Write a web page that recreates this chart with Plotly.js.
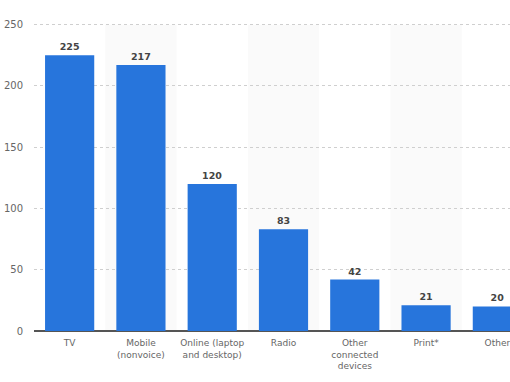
<!DOCTYPE html>
<html>
<head>
<meta charset="utf-8">
<script src="https://cdn.plot.ly/plotly-3.0.1.min.js"></script>
<style>html,body{margin:0;padding:0;background:#fff;overflow:hidden;width:510px;height:382px;}#chart{width:533px;height:382px;}</style>
</head>
<body>
<div id="chart"></div>
<script>
const categories = ["TV", "Mobile<br>(nonvoice)", "Online (laptop<br>and desktop)", "Radio", "Other<br>connected<br>devices", "Print*", "Other"];
const values = [225, 217, 120, 83, 42, 21, 20];
const yTicks = [0, 50, 100, 150, 200, 250];

const bandShapes = [1, 3, 5].map(i => ({
  type: 'rect', xref: 'x', yref: 'y', layer: 'below',
  x0: i - 0.5, x1: i + 0.5, y0: -30, y1: 250,
  fillcolor: '#fafafa', line: {width: 0}
}));

const trace = {
  type: 'bar',
  x: categories.map((c, i) => i),
  y: values,
  marker: {color: '#2775dc'},
  text: values.map(String),
  textposition: 'outside',
  cliponaxis: false,
  textfont: {family: 'DejaVu Sans', size: 9.5, color: '#444444', weight: 'bold'},
  hoverinfo: 'none'
};

const layout = {
  width: 533, height: 382,
  margin: {l: 34, r: 0, t: 21, b: 51},
  paper_bgcolor: '#ffffff', plot_bgcolor: 'rgba(0,0,0,0)',
  bargap: 0.31,
  showlegend: false,
  xaxis: {
    range: [-0.5, 6.5],
    tickmode: 'array',
    tickvals: categories.map((c, i) => i),
    ticktext: categories,
    tickfont: {family: 'DejaVu Sans', size: 9, color: '#666666'},
    ticklabelstandoff: 5,
    showgrid: false, zeroline: false,
    showline: false,
    ticks: '', fixedrange: true
  },
  yaxis: {
    range: [0, 253],
    tickmode: 'array',
    tickvals: yTicks,
    ticktext: yTicks.map(String),
    tickfont: {family: 'DejaVu Sans', size: 10, color: '#666666'},
    showgrid: true, gridcolor: '#cfcfcf', griddash: 'dot', gridwidth: 1,
    zeroline: true, zerolinecolor: '#555555', zerolinewidth: 1.3,
    ticklabelstandoff: 10,
    showline: false, ticks: ''
  },
  shapes: bandShapes
};

Plotly.newPlot('chart', [trace], layout, {displayModeBar: false, staticPlot: true});
</script>
</body>
</html>
